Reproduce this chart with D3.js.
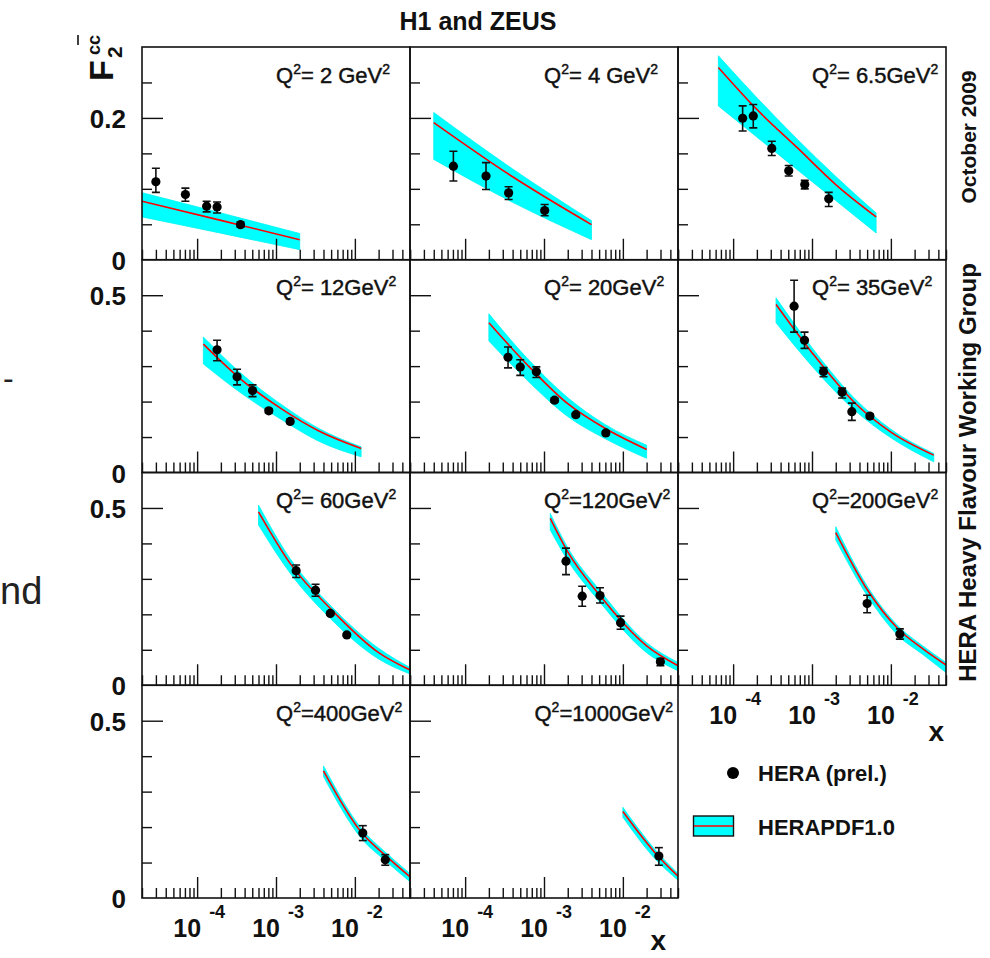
<!DOCTYPE html>
<html>
<head>
<meta charset="utf-8">
<script src="https://cdn.jsdelivr.net/npm/d3@7"></script>
<style>
  html, body { margin: 0; padding: 0; background: #fff; }
  svg { display: block; font-family: "Liberation Sans", Arial, Helvetica, sans-serif; }
</style>
</head>
<body>
<svg id="chart" width="990" height="958"></svg>
<script>
// Q^2 bins (GeV^2) and the label text that follows "Q^2"
const q2Values = [2, 4, 6.5, 12, 20, 35, 60, 120, 200, 400, 1000];
const q2Text = ["= 2 GeV", "= 4 GeV", "= 6.5GeV", "= 12GeV", "= 20GeV", "= 35GeV",
                "= 60GeV", "=120GeV", "=200GeV", "=400GeV", "=1000GeV"];

// HERA (prel.) combined charm measurements: x, F2cc and total-error limits
const heraX = [
  [3.0e-5, 7.1e-5, 1.32e-4, 1.79e-4, 3.55e-4],
  [7.1e-5, 1.84e-4, 3.56e-4, 1.02e-3],
  [1.32e-4, 1.8e-4, 3.09e-4, 5.07e-4, 8.1e-4, 1.63e-3],
  [1.79e-4, 3.21e-4, 5.04e-4, 8.1e-4, 1.51e-3],
  [3.5e-4, 5.0e-4, 8.0e-4, 1.36e-3, 2.53e-3, 6.08e-3],
  [5.93e-4, 8.04e-4, 1.4e-3, 2.41e-3, 3.2e-3, 5.42e-3],
  [1.8e-3, 3.17e-3, 4.88e-3, 7.9e-3],
  [1.9e-3, 3.05e-3, 5.13e-3, 9.35e-3, 2.99e-2],
  [5.0e-3, 1.3e-2],
  [1.26e-2, 2.43e-2],
  [2.86e-2]
];
const heraF2 = [
  [0.110, 0.092, 0.0755, 0.0745, 0.0495],
  [0.132, 0.118, 0.0943, 0.0693],
  [0.1995, 0.2028, 0.157, 0.1255, 0.106, 0.0859],
  [0.346, 0.270, 0.231, 0.174, 0.144],
  [0.325, 0.2975, 0.284, 0.204, 0.163, 0.1115],
  [0.469, 0.373, 0.285, 0.2264, 0.1714, 0.159],
  [0.323, 0.268, 0.2025, 0.142],
  [0.350, 0.2512, 0.253, 0.1765, 0.0663],
  [0.2306, 0.1448],
  [0.183, 0.108],
  [0.1185]
];
const heraHi = [
  [0.129, 0.101, 0.0825, 0.0815, 0.053],
  [0.153, 0.137, 0.103, 0.078],
  [0.217, 0.219, 0.167, 0.133, 0.112, 0.095],
  [0.373, 0.291, 0.247, 0.180, 0.150],
  [0.354, 0.318, 0.298, 0.210, 0.168, 0.116],
  [0.542, 0.396, 0.296, 0.238, 0.1956, 0.164],
  [0.339, 0.285, 0.207, 0.146],
  [0.3866, 0.279, 0.275, 0.195, 0.0756],
  [0.254, 0.159],
  [0.204, 0.1223],
  [0.142]
];
const heraLo = [
  [0.095, 0.0825, 0.0675, 0.066, 0.046],
  [0.111, 0.099, 0.085, 0.062],
  [0.1816, 0.186, 0.147, 0.118, 0.100, 0.075],
  [0.315, 0.247, 0.214, 0.168, 0.138],
  [0.295, 0.274, 0.268, 0.198, 0.158, 0.107],
  [0.396, 0.350, 0.270, 0.210, 0.147, 0.154],
  [0.304, 0.251, 0.198, 0.138],
  [0.312, 0.223, 0.232, 0.158, 0.055],
  [0.2045, 0.130],
  [0.162, 0.0924],
  [0.0924]
];

// HERAPDF1.0 prediction: central value and uncertainty band at sampled x
const pdfX = [
  [2e-5, 2e-4, 2e-3],
  [4e-5, 4e-4, 4e-3],
  [6.5e-5, 2e-4, 6.5e-4, 2e-3, 6.5e-3],
  [1.2e-4, 3.5e-4, 1.2e-3, 3.5e-3, 1.2e-2],
  [2e-4, 6e-4, 2e-3, 6e-3, 2e-2],
  [3.5e-4, 1e-3, 3.5e-3, 1e-2, 3.5e-2],
  [6e-4, 1.5e-3, 5e-3, 2e-2, 5e-2],
  [1.2e-3, 2e-3, 5e-3, 2e-2, 5e-2],
  [2e-3, 5e-3, 1.25e-2, 2.5e-2, 5e-2],
  [4e-3, 1.2e-2, 2.5e-2, 5e-2],
  [1e-2, 2.5e-2, 5e-2]
];
const pdfCentral = [
  [0.0825, 0.0555, 0.0283],
  [0.1934, 0.117, 0.0495],
  [0.2712, 0.212, 0.158, 0.106, 0.0604],
  [0.362, 0.265, 0.178, 0.117, 0.0677],
  [0.4225, 0.306, 0.194, 0.124, 0.065],
  [0.474, 0.338, 0.196, 0.114, 0.049],
  [0.489, 0.3445, 0.214, 0.092, 0.043],
  [0.4706, 0.376, 0.2557, 0.111, 0.055],
  [0.4305, 0.270, 0.158, 0.104, 0.057],
  [0.3585, 0.186, 0.118, 0.0597],
  [0.2437, 0.130, 0.0616]
];
const pdfUpper = [
  [0.0946, 0.066, 0.037],
  [0.2076, 0.128, 0.0552],
  [0.2877, 0.2285, 0.170, 0.1175, 0.066],
  [0.3824, 0.282, 0.190, 0.124, 0.0723],
  [0.4477, 0.324, 0.211, 0.135, 0.077],
  [0.4925, 0.352, 0.208, 0.122, 0.0538],
  [0.508, 0.358, 0.223, 0.104, 0.050],
  [0.4846, 0.388, 0.270, 0.120, 0.0644],
  [0.447, 0.280, 0.166, 0.112, 0.0644],
  [0.3725, 0.197, 0.127, 0.069],
  [0.2557, 0.139, 0.069]
];
const pdfLower = [
  [0.0604, 0.0375, 0.0142],
  [0.1415, 0.081, 0.0283],
  [0.2169, 0.173, 0.127, 0.0836, 0.0377],
  [0.306, 0.226, 0.148, 0.088, 0.0443],
  [0.371, 0.262, 0.158, 0.095, 0.040],
  [0.4225, 0.300, 0.175, 0.098, 0.030],
  [0.452, 0.317, 0.186, 0.074, 0.032],
  [0.438, 0.352, 0.237, 0.092, 0.041],
  [0.410, 0.253, 0.139, 0.088, 0.036],
  [0.3426, 0.169, 0.103, 0.0457],
  [0.2278, 0.113, 0.0504]
];

// Axis ranges and tick marks
const xDomain = [2e-5, 0.05];
const yMaxRow = [0.3, 0.6, 0.6, 0.6];
const yMajorTicks = [[0.2], [0.5], [0.5], [0.5]];
const yMinorTicks = [[0.05, 0.1, 0.15, 0.25], [0.1, 0.2, 0.3, 0.4], [0.1, 0.2, 0.3, 0.4], [0.1, 0.2, 0.3, 0.4]];
const yTickLabels = [["0", "0.2"], ["0", "0.5"], ["0", "0.5"], ["0", "0.5"]];
const yTickLabelValues = [[0, 0.2], [0, 0.5], [0, 0.5], [0, 0.5]];
const xLabelTicks = [1e-4, 1e-3, 1e-2];
const xLabelExp = ["-4", "-3", "-2"];

// Layout
const LEFT = 142, TOP = 47, PW = 268, PH = 212.75;
const INK = "#111";

const svg = d3.select("#chart");
const x = d3.scaleLog().domain(xDomain).range([0, PW]);
const allXTicks = x.ticks();
const isDecade = v => Math.abs(Math.log10(v) - Math.round(Math.log10(v))) < 1e-9;
const xMajor = allXTicks.filter(isDecade);
const xMinor = allXTicks.filter(v => !isDecade(v));

q2Values.forEach((q2, i) => {
  const row = Math.floor(i / 3), col = i % 3;
  const g = svg.append("g").attr("transform", `translate(${LEFT + col * PW},${TOP + row * PH})`);
  const y = d3.scaleLinear().domain([0, yMaxRow[row]]).range([PH, 0]);

  const clipId = "clip" + i;
  g.append("clipPath").attr("id", clipId)
    .append("rect").attr("width", PW).attr("height", PH);
  const inner = g.append("g").attr("clip-path", `url(#${clipId})`);

  // prediction band and central line
  const band = pdfX[i].map((xv, k) => ({ x: xv, c: pdfCentral[i][k], u: pdfUpper[i][k], l: pdfLower[i][k] }));
  inner.append("path").datum(band)
    .attr("fill", "#00ffff")
    .attr("stroke", "#00f4f4").attr("stroke-width", 0.8)
    .attr("d", d3.area().x(d => x(d.x)).y0(d => y(d.l)).y1(d => y(d.u)).curve(d3.curveMonotoneX));
  inner.append("path").datum(band)
    .attr("fill", "none").attr("stroke", "#ff0000").attr("stroke-width", 1.6)
    .attr("d", d3.line().x(d => x(d.x)).y(d => y(d.c)).curve(d3.curveMonotoneX));

  // measurements with error bars
  const pts = heraX[i].map((xv, k) => ({ x: xv, v: heraF2[i][k], hi: heraHi[i][k], lo: heraLo[i][k] }));
  const pg = inner.selectAll("g.pt").data(pts).join("g").attr("class", "pt");
  pg.append("line")
    .attr("x1", d => x(d.x)).attr("x2", d => x(d.x))
    .attr("y1", d => y(d.hi)).attr("y2", d => y(d.lo))
    .attr("stroke", INK).attr("stroke-width", 1.6);
  pg.append("line")
    .attr("x1", d => x(d.x) - 4).attr("x2", d => x(d.x) + 4)
    .attr("y1", d => y(d.hi)).attr("y2", d => y(d.hi))
    .attr("stroke", INK).attr("stroke-width", 1.6);
  pg.append("line")
    .attr("x1", d => x(d.x) - 4).attr("x2", d => x(d.x) + 4)
    .attr("y1", d => y(d.lo)).attr("y2", d => y(d.lo))
    .attr("stroke", INK).attr("stroke-width", 1.6);
  pg.append("circle")
    .attr("cx", d => x(d.x)).attr("cy", d => y(d.v)).attr("r", 4.6)
    .attr("fill", "#000");

  // tick marks (drawn inward from the left and bottom edges)
  const styleAxis = a => {
    a.select(".domain").remove();
    a.selectAll(".tick line").attr("stroke", INK).attr("stroke-width", 1.4);
  };
  g.append("g").call(d3.axisRight(y).tickValues(yMinorTicks[row]).tickSize(10).tickFormat("")).call(styleAxis);
  g.append("g").call(d3.axisRight(y).tickValues(yMajorTicks[row]).tickSize(21).tickFormat("")).call(styleAxis);
  g.append("g").attr("transform", `translate(0,${PH})`)
    .call(d3.axisTop(x).tickValues(xMinor).tickSize(10).tickFormat("")).call(styleAxis);
  g.append("g").attr("transform", `translate(0,${PH})`)
    .call(d3.axisTop(x).tickValues(xMajor).tickSize(21).tickFormat("")).call(styleAxis);

  // frame
  g.append("rect").attr("width", PW).attr("height", PH)
    .attr("fill", "none").attr("stroke", INK).attr("stroke-width", 1.6);

  // Q^2 label
  const lab = g.append("text").attr("y", 35.5).attr("font-size", 22).attr("fill", INK)
    .attr("stroke", INK).attr("stroke-width", 0.45);
  lab.append("tspan").text("Q");
  lab.append("tspan").attr("font-size", 14).attr("dy", -9).text("2");
  lab.append("tspan").attr("dy", 9).text(q2Text[i]);
  lab.append("tspan").attr("font-size", 14).attr("dy", -9).text("2");
  const w = lab.node().getComputedTextLength();
  lab.attr("x", Math.min(134, PW - 5 - w));

  // y labels on the first column
  if (col === 0) {
    yTickLabels[row].forEach((t, k) => {
      g.append("text")
        .attr("x", -16).attr("y", y(yTickLabelValues[row][k]) + 1)
        .attr("text-anchor", "end").attr("dominant-baseline", "central")
        .attr("font-size", 26).attr("font-weight", "bold").attr("fill", INK)
        .text(t);
    });
  }

  // x labels below panels with nothing underneath
  if (i >= 8) {
    xLabelTicks.forEach((t, k) => {
      g.append("text").attr("x", x(t) + 4).attr("y", PH + 39)
        .attr("text-anchor", "end").attr("font-size", 25).attr("font-weight", "bold").attr("fill", INK)
        .text("10");
      g.append("text").attr("x", x(t) + 12).attr("y", PH + 20)
        .attr("text-anchor", "start").attr("font-size", 18).attr("font-weight", "bold").attr("fill", INK)
        .text(xLabelExp[k]);
    });
  }
  if (i === 8 || i === 10) {
    g.append("text").attr("x", i === 8 ? PW - 2 : PW - 12).attr("y", i === 8 ? PH + 56 : PH + 52)
      .attr("text-anchor", "end").attr("font-size", 28).attr("font-weight", "bold").attr("fill", INK)
      .text("x");
  }
});

// title
svg.append("text").attr("x", 478).attr("y", 30).attr("text-anchor", "middle")
  .attr("font-size", 25).attr("font-weight", "bold").attr("fill", INK)
  .text("H1 and ZEUS");

// y-axis title F2 (c cbar)
const yt = svg.append("g").attr("transform", "translate(113,81) rotate(-90)")
  .attr("font-weight", "bold").attr("fill", INK);
yt.append("text").attr("x", 0).attr("y", 0).attr("font-size", 34).text("F");
yt.append("text").attr("x", 23).attr("y", 9).attr("font-size", 21).text("2");
yt.append("text").attr("x", 26).attr("y", -13).attr("font-size", 18).text("cc");
yt.append("line").attr("x1", 36).attr("x2", 46).attr("y1", -35).attr("y2", -35)
  .attr("stroke", INK).attr("stroke-width", 1.6);

// side annotations
svg.append("text").attr("transform", "translate(976,137) rotate(-90)")
  .attr("text-anchor", "middle").attr("font-size", 21).attr("font-weight", "bold").attr("fill", INK)
  .text("October 2009");
svg.append("text").attr("transform", "translate(976,472.5) rotate(-90)")
  .attr("text-anchor", "middle").attr("font-size", 24).attr("font-weight", "bold").attr("fill", INK)
  .text("HERA Heavy Flavour Working Group");

// legend
const leg = svg.append("g");
leg.append("circle").attr("cx", 733).attr("cy", 773).attr("r", 6).attr("fill", "#000");
leg.append("text").attr("x", 758).attr("y", 781).attr("font-size", 22).attr("font-weight", "bold").attr("fill", INK)
  .text("HERA (prel.)");
leg.append("rect").attr("x", 693.5).attr("y", 816).attr("width", 40).attr("height", 20)
  .attr("fill", "#00ffff").attr("stroke", INK).attr("stroke-width", 1.4);
leg.append("line").attr("x1", 694).attr("x2", 733).attr("y1", 826).attr("y2", 826)
  .attr("stroke", "#ff0000").attr("stroke-width", 1.6);
leg.append("text").attr("x", 758).attr("y", 835).attr("font-size", 22).attr("font-weight", "bold").attr("fill", INK)
  .text("HERAPDF1.0");

// fragments of surrounding page text at the left margin
svg.append("text").attr("x", 3).attr("y", 389).attr("font-size", 32).attr("fill", "#222").text("-");
svg.append("text").attr("x", 0).attr("y", 604).attr("font-size", 38).attr("fill", "#222").text("nd");
</script>
</body>
</html>
